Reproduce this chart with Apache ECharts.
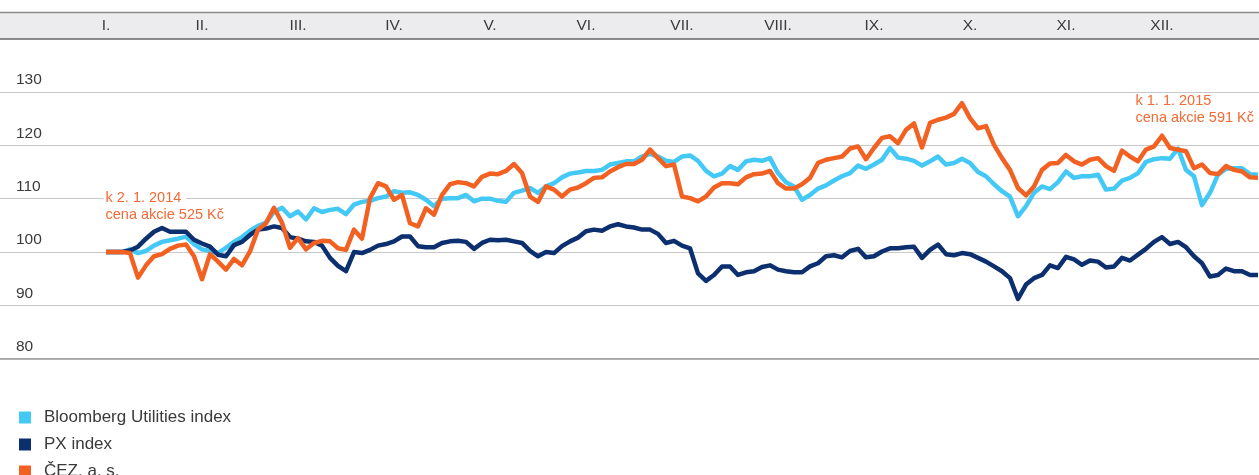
<!DOCTYPE html>
<html lang="cs">
<head>
<meta charset="UTF-8">
<title>ČEZ vs indexy 2014</title>
<script src="https://cdn.jsdelivr.net/npm/echarts@6/dist/echarts.min.js"></script>
<style>
    html, body { margin: 0; padding: 0; background: #fff; }
    #main { width: 1259px; height: 475px; }
</style>
</head>
<body>
<div id="main"></div>
<script>
    // mesice nahore
    var months = ['I.', 'II.', 'III.', 'IV.', 'V.', 'VI.', 'VII.', 'VIII.', 'IX.', 'X.', 'XI.', 'XII.'];
    var yTicks = [80, 90, 100, 110, 120, 130];

    // index, 2. 1. 2014 = 100, vzorek zhruba po 1/12 mesice
    var bloomberg = [
        100, 100, 100, 100.5, 99.8, 100.2, 101.2, 101.9, 102.2, 102.5, 102.9, 101.5,
        100.5, 100.2, 99.8, 100.8, 101.9, 102.8, 104, 104.9, 105.5, 107.5, 108.3, 106.7,
        107.6, 106.1, 108.2, 107.5, 107.9, 108.1, 107.1, 108.9, 109.4, 109.6, 110.1, 110.4,
        111.4, 111.1, 111.2, 110.7, 109.8, 108.6, 110, 110.1, 110.1, 110.7, 109.5, 110,
        110, 109.6, 109.4, 111.1, 111.5, 112, 111.1, 112.3, 112.9, 114, 114.7, 114.9,
        115.2, 115.2, 115.4, 116.4, 116.7, 117, 117, 117.9, 118.4, 117.9, 117.1, 116.9,
        117.9, 118.1, 117.1, 115.2, 114.2, 114.7, 116.1, 115.4, 117, 117.3, 117.1, 117.6,
        114.8, 113.1, 112.3, 109.8, 110.7, 111.9, 112.5, 113.4, 114.2, 114.8, 116.2, 115.6,
        116.4, 117.3, 119.5, 117.7, 117.5, 117.1, 116.2, 117, 117.9, 116.4, 116.7, 117.5,
        116.7, 115, 114.2, 112.7, 111.4, 110.4, 106.7, 108.6, 111.1, 112.3, 111.8, 113.1,
        115.1, 113.9, 114.2, 114.2, 114.5, 111.7, 111.9, 113.4, 113.9, 114.8, 116.9, 117.4,
        117.6, 117.5, 119.4, 115.4, 114.2, 108.8, 111.1, 114.5, 115.6, 115.7, 115.7, 114.6, 114.5
    ];
    var px = [
        100, 100, 100, 100.3, 101, 102.5, 103.8, 104.5, 103.8, 103.8, 103.8, 102.3,
        101.6, 101, 99.5, 99.2, 101.3, 101.9, 103.2, 104.2, 104.4, 104.8, 104.5, 102.8,
        102.5, 102, 101.9, 101.2, 98.9, 97.4, 96.4, 100, 99.8, 100.4, 101.2, 101.5,
        102, 102.9, 102.9, 101.1, 100.9, 100.9, 101.7, 102, 102.1, 101.9, 100.6, 101.7,
        102.3, 102.2, 102.3, 102, 101.7, 100.2, 99.2, 100, 99.8, 101.1, 102, 102.7,
        103.9, 104.2, 104, 104.8, 105.2, 104.8, 104.6, 104.2, 104.2, 103.4, 101.7, 102.1,
        101.2, 100.7, 96, 94.6, 95.7, 97.3, 97.3, 95.7, 96.2, 96.4, 97.2, 97.5,
        96.7, 96.4, 96.2, 96.2, 97.3, 97.9, 99.2, 99.4, 99, 100.2, 100.6, 99,
        99.2, 100.1, 100.7, 100.7, 100.9, 101, 98.9, 100.4, 101.4, 99.6, 99.4, 99.8,
        99.6, 98.9, 98.2, 97.3, 96.4, 95.1, 91.2, 93.9, 95.1, 95.7, 97.5, 97,
        99.1, 98.6, 97.6, 98.4, 98.2, 97.1, 97.3, 98.9, 98.4, 99.5, 100.6, 101.9,
        102.8, 101.5, 101.9, 100.9, 99.2, 97.9, 95.4, 95.7, 96.9, 96.4, 96.4, 95.7, 95.7
    ];
    var cez = [
        100, 100, 100, 99.8, 95.2, 97.5, 99.2, 99.6, 100.6, 101.2, 101.4, 99.2,
        94.9, 99.6, 98.2, 96.7, 98.7, 97.5, 100.1, 104.2, 105.4, 108.3, 105.5, 100.8,
        102.6, 100.5, 101.7, 102.1, 102, 100.7, 100.4, 104.2, 102.5, 110.1, 112.9, 112.3,
        109.8, 110.7, 105.4, 104.8, 108.2, 107, 110.7, 112.7, 113.1, 112.9, 112.3, 114.1,
        114.7, 114.6, 115.2, 116.5, 114.8, 110.4, 109.4, 112.3, 111.7, 110.4, 111.7, 112.1,
        112.9, 113.9, 114, 115.1, 115.9, 116.5, 116.5, 117.3, 119.2, 117.6, 116.1, 116.4,
        110.4, 110.1, 109.5, 110.4, 112.1, 112.9, 112.9, 112.7, 114, 114.6, 114.7, 115.2,
        112.9, 111.9, 111.9, 112.7, 113.9, 116.7, 117.3, 117.6, 117.9, 119.4, 119.8, 117.4,
        119.5, 121.4, 121.7, 120.4, 122.9, 124.1, 119.6, 124.2, 124.8, 125.2, 125.9, 127.9,
        125.1, 123.2, 123.6, 120.1, 117.6, 115.4, 112, 110.6, 112.3, 115.4, 116.6, 116.7,
        118.2, 117, 116.4, 117.3, 117.6, 116.1, 115.2, 119, 117.9, 117, 119.2, 119.8,
        121.8, 119.5, 119.2, 118.9, 115.7, 116.4, 114.8, 114.6, 116.1, 115.4, 115.1, 114, 113.9
    ];

    var step = 1 / 12; // mesice
    var xs = cez.map(function (v, i) { return i * step; });
    function pairs(arr) { return arr.map(function (v, i) { return [xs[i], v]; }); }

    var font = "'Liberation Sans', Arial, sans-serif";
    var xMin = -106 / 96, xMax = 1153 / 96;
    var noteColor = '#f26a35';

    var chart = echarts.init(document.getElementById('main'));
    chart.setOption({
        animation: false,
        textStyle: { fontFamily: font },
        graphic: [{
            type: 'rect',
            z: -1,
            shape: { x: 0, y: 12, width: 1259, height: 27 },
            style: { fill: '#ececee' }
        }, {
            type: 'line',
            shape: { x1: 0, y1: 12.5, x2: 1259, y2: 12.5 },
            style: { stroke: '#8a8a8a', lineWidth: 1.5 }
        }],
        legend: {
            orient: 'vertical',
            left: 19,
            top: 409,
            height: 120,
            padding: 0,
            itemGap: 10,
            icon: 'rect',
            itemWidth: 12,
            itemHeight: 12,
            textStyle: { fontSize: 17, color: '#3a3a3a', fontFamily: font, padding: [0, 0, 0, 8] },
            data: ['Bloomberg Utilities index', 'PX index', 'ČEZ, a. s.']
        },
        grid: { left: 0, right: 0, top: 92, bottom: 116.3 },
        xAxis: [{
            type: 'value',
            min: xMin,
            max: xMax,
            axisLine: { show: true, lineStyle: { color: '#9a9a9a', width: 1.5 } },
            axisTick: { show: false },
            axisLabel: { show: false },
            splitLine: { show: false }
        }, {
            type: 'value',
            position: 'top',
            offset: 53.5,
            min: xMin,
            max: xMax,
            axisLine: { show: true, onZero: false, lineStyle: { color: '#666', width: 1.5 } },
            axisTick: { show: false },
            splitLine: { show: false },
            axisLabel: {
                customValues: months.map(function (m, i) { return i; }),
                margin: 5,
                fontSize: 15.5,
                color: '#3a3a3a',
                formatter: function (v) { return months[Math.round(v)]; }
            }
        }],
        yAxis: {
            type: 'value',
            min: yTicks[0],
            max: yTicks[yTicks.length - 1],
            interval: 10,
            axisLine: { show: false },
            axisTick: { show: false },
            splitLine: { lineStyle: { color: '#c9c9c9', width: 1.2 } },
            axisLabel: {
                inside: true,
                margin: 16,
                align: 'left',
                verticalAlign: 'bottom',
                padding: [0, 0, 4, 0],
                fontSize: 15.5,
                color: '#3a3a3a'
            }
        },
        series: [{
            name: 'Bloomberg Utilities index',
            type: 'line',
            showSymbol: false,
            color: '#44c8f5',
            lineStyle: { width: 4.5, join: 'round' },
            data: pairs(bloomberg)
        }, {
            name: 'PX index',
            type: 'line',
            showSymbol: false,
            color: '#0c2f6f',
            lineStyle: { width: 4.5, join: 'round' },
            data: pairs(px)
        }, {
            name: 'ČEZ, a. s.',
            type: 'line',
            showSymbol: false,
            color: '#f26122',
            lineStyle: { width: 4.5, join: 'round' },
            data: pairs(cez),
            markPoint: {
                silent: true,
                symbol: 'circle',
                symbolSize: 1,
                itemStyle: { color: 'rgba(0,0,0,0)' },
                label: {
                    show: true,
                    color: noteColor,
                    fontSize: 14.5,
                    lineHeight: 17,
                    align: 'left',
                    verticalAlign: 'top'
                },
                data: [{
                    coord: [xs[0], cez[0]],
                    label: {
                        position: [-2, -62],
                        formatter: '{a|k 2. 1. 2014}\n{b|cena akcie 525 Kč}',
                        rich: {
                            a: { backgroundColor: '#fff', padding: [0, 5, 0, 2], color: noteColor, fontSize: 14.5, lineHeight: 17 },
                            b: { padding: [0, 0, 0, 2], color: noteColor, fontSize: 14.5, lineHeight: 17 }
                        }
                    }
                }, {
                    coord: [xs[xs.length - 1], cez[cez.length - 1]],
                    label: {
                        position: [-122, -85],
                        formatter: 'k 1. 1. 2015\ncena akcie 591 Kč'
                    }
                }]
            }
        }]
    });
</script>
</body>
</html>
